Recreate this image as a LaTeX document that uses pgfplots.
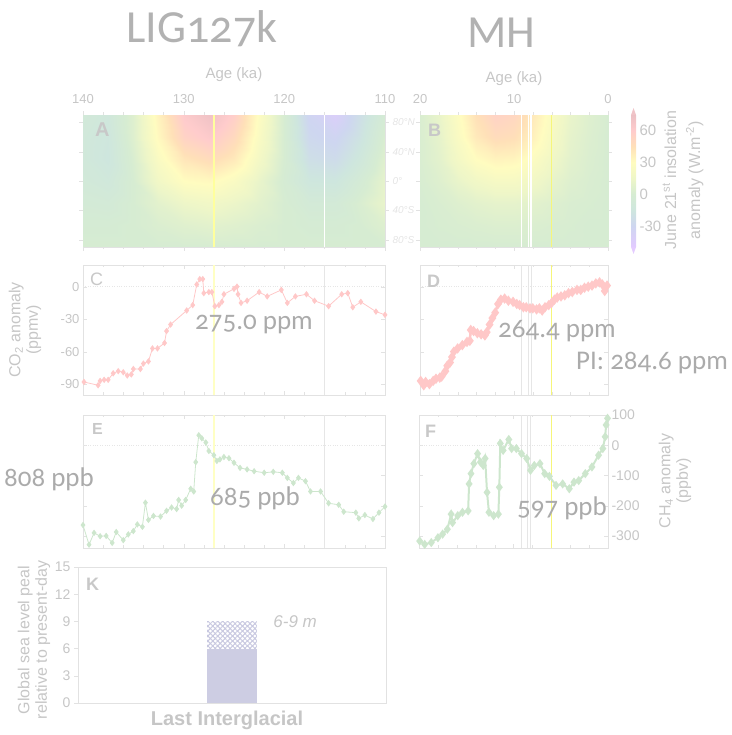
\documentclass[border=0pt]{standalone}
\usepackage{fontspec}
\setmainfont{Liberation Sans}
\newfontfamily\titlefont[Numbers=OldStyle]{Carlito}
\usepackage{pgfplots}
\pgfplotsset{compat=1.18}
\usetikzlibrary{patterns.meta}

\definecolor{frame}{HTML}{E2E2E2}
\definecolor{tickgray}{HTML}{C6C6C6}
\definecolor{titlegray}{HTML}{B2B2B2}
\definecolor{annotgray}{HTML}{ABABAB}
\definecolor{lettergray}{HTML}{C8C8C8}
\definecolor{latgray}{HTML}{E4E4E4}
\definecolor{co2}{HTML}{FFC8C8}
\definecolor{ch4}{HTML}{CDE6CD}
\definecolor{barfill}{HTML}{CDCDE3}
\definecolor{hatch}{HTML}{C8C8E0}
\definecolor{lig}{HTML}{FFFFC4}
\definecolor{mhy}{HTML}{F6F67A}
\definecolor{evgray}{HTML}{E6E6E6}
\definecolor{cbtop}{RGB}{240,196,200}
\definecolor{cbbot}{RGB}{228,204,255}

\tikzset{letter/.style={anchor=north west, inner sep=0pt, text=lettergray,
    font=\bfseries\fontsize{18}{18}\selectfont}}

\pgfplotsset{
  every axis/.append style={
    scale only axis,
    axis line style={draw=frame},
    tick style={draw=frame},
    every tick label/.append style={text=tickgray, font=\fontsize{13}{13}\selectfont},
    /pgf/number format/assume math mode=true,
    major tick length=4pt, minor tick length=2.5pt,
    tick pos=both,
  },
  insol/.style={
    colormap={insol}{rgb255(0cm)=(226,202,255); rgb255(20cm)=(206,214,240);
      rgb255(35cm)=(206,230,222); rgb255(50cm)=(214,236,210); rgb255(65cm)=(238,246,200);
      rgb255(80cm)=(255,252,192); rgb255(95cm)=(255,224,184); rgb255(110cm)=(255,204,204);
      rgb255(125cm)=(236,192,196)},
    point meta min=-50, point meta max=75,
    ymin=-90, ymax=90, tick align=outside, clip=false,
    ytick={-80,-40,0,40,80}, yticklabels={},
    xticklabel pos=upper, minor x tick num=4,
    xticklabel style={yshift=4pt},
  },
  ts/.style={tick align=inside, minor x tick num=4, xticklabels={}},
}

\pgfplotstableread{
x y z
140 -90 0
137.5 -90 0
135 -90 0
132.5 -90 0
130 -90 0
127.5 -90 0
125 -90 0
122.5 -90 0
120 -90 0
117.5 -90 0
115 -90 0
112.5 -90 0
110 -90 0
140 -60 -2
137.5 -60 -2
135 -60 0
132.5 -60 3
130 -60 6
127.5 -60 8
125 -60 6
122.5 -60 3
120 -60 0
117.5 -60 -2
115 -60 -2
112.5 -60 0
110 -60 5
140 -30 -5
137.5 -30 -6
135 -30 0
132.5 -30 8
130 -30 15
127.5 -30 18
125 -30 14
122.5 -30 8
120 -30 0
117.5 -30 -6
115 -30 -6
112.5 -30 2
110 -30 12
140 0 -8
137.5 0 -11
135 0 0
132.5 0 18
130 0 30
127.5 0 32
125 0 25
122.5 0 12
120 0 -2
117.5 0 -14
115 0 -15
112.5 0 -4
110 0 10
140 30 -10
137.5 30 -15
135 30 2
132.5 30 25
130 30 42
127.5 30 48
125 30 40
122.5 30 20
120 30 0
117.5 30 -22
115 30 -25
112.5 30 -12
110 30 6
140 60 -10
137.5 60 -14
135 60 5
132.5 60 32
130 60 55
127.5 60 62
125 60 50
122.5 60 25
120 60 0
117.5 60 -28
115 60 -32
112.5 60 -18
110 60 2
140 90 -8
137.5 90 -12
135 90 5
132.5 90 35
130 90 62
127.5 90 72
125 90 58
122.5 90 28
120 90 0
117.5 90 -32
115 90 -42
112.5 90 -22
110 90 -3
}\insolLIG

\pgfplotstableread{
x y z
20 -90 0
18 -90 0
16 -90 0
14 -90 0
12 -90 0
10 -90 0
8 -90 0
6 -90 0
4 -90 0
2 -90 0
0 -90 0
20 -60 0
18 -60 1
16 -60 2
14 -60 3
12 -60 4
10 -60 4
8 -60 3
6 -60 2
4 -60 1
2 -60 0
0 -60 0
20 -30 0
18 -30 2
16 -30 5
14 -30 8
12 -30 10
10 -30 10
8 -30 8
6 -30 5
4 -30 2
2 -30 1
0 -30 0
20 0 1
18 0 5
16 0 12
14 0 18
12 0 22
10 0 22
8 0 18
6 0 11
4 0 5
2 0 2
0 0 0
20 30 2
18 30 8
16 30 20
14 30 30
12 30 35
10 30 34
8 30 27
6 30 17
4 30 8
2 30 3
0 30 0
20 60 2
18 60 10
16 60 25
14 60 40
12 60 48
10 60 46
8 60 36
6 60 22
4 60 10
2 60 4
0 60 0
20 90 2
18 90 12
16 90 28
14 90 45
12 90 55
10 90 52
8 90 40
6 90 25
4 90 12
2 90 5
0 90 0
}\insolMH

\begin{document}
\begin{tikzpicture}[x=1pt,y=1pt]
\path (0,0) rectangle (731,735);

% titles
\node[anchor=base, text=titlegray, font=\titlefont\fontsize{46}{46}\selectfont] at (202,692) {LIG127k};
\node[anchor=base, text=titlegray, font=\titlefont\fontsize{46}{46}\selectfont] at (501,687) {MH};

% A: insolation LIG
\begin{axis}[insol, at={(83pt,488pt)}, anchor=south west, width=302pt, height=132pt,
  xmin=110, xmax=140, x dir=reverse, xtick={110,120,130,140},
  yticklabel pos=right,
  yticklabels={80°S,40°S,0°,40°N,80°N},
  yticklabel style={text=latgray, font=\itshape\fontsize{10}{10}\selectfont},
]
\addplot[surf, shader=interp, mesh/cols=13, point meta=explicit] table[x=x, y=y, meta=z] {\insolLIG};
\addplot[lig!80!yellow, line width=2pt] coordinates {(127,-90) (127,90)};
\addplot[white, line width=1.5pt] coordinates {(116,-90) (116,90)};
\node[letter, font=\bfseries\fontsize{20}{20}\selectfont] at ([xshift=12pt,yshift=-8pt]rel axis cs:0,1) {A};
\node[text=tickgray, font=\fontsize{15}{15}\selectfont] at ([yshift=40pt]rel axis cs:0.5,1) {Age (ka)};
\end{axis}

% B: insolation MH
\begin{axis}[insol, at={(420pt,488pt)}, anchor=south west, width=188pt, height=132pt,
  xmin=0, xmax=20, x dir=reverse, xtick={0,10,20},
  colorbar right,
  colorbar style={at={(parent axis.north east)}, anchor=north west, xshift=14.5pt,
    width=5pt, scale only axis, axis line style={draw=none}, major tick length=0pt,
    ytick={-30,0,30,60}, yticklabel pos=right,
    yticklabel style={text=tickgray, font=\fontsize{15}{15}\selectfont},
    extra description/.code={
      \fill[cbtop] (axis description cs:0,1) -- (axis description cs:1,1)
        -- ([yshift=7pt]axis description cs:0.5,1) -- cycle;
      \fill[cbbot] (axis description cs:0,0) -- (axis description cs:1,0)
        -- ([yshift=-7pt]axis description cs:0.5,0) -- cycle;
    }},
]
\addplot[surf, shader=interp, mesh/cols=11, point meta=explicit] table[x=x, y=y, meta=z] {\insolMH};
\addplot[white, line width=1.2pt] coordinates {(9.2,-90) (9.2,90)};
\addplot[white, line width=1.2pt] coordinates {(8.5,-90) (8.5,90)};
\addplot[white, line width=1.2pt] coordinates {(8.2,-90) (8.2,90)};
\addplot[mhy, line width=1.5pt] coordinates {(6,-90) (6,90)};
\node[letter] at ([xshift=8pt,yshift=-9pt]rel axis cs:0,1) {B};
\node[text=tickgray, font=\fontsize{15}{15}\selectfont] at ([yshift=36pt]rel axis cs:0.5,1) {Age (ka)};
\end{axis}

% C: CO2 LIG
\begin{axis}[ts, at={(83pt,340pt)}, anchor=south west, width=302pt, height=130pt,
  xmin=110, xmax=140, x dir=reverse, xtick={110,120,130,140},
  ymin=-100, ymax=20, ytick={-90,-60,-30,0},
]
\addplot[evgray, dotted] coordinates {(140,0) (110,0)};
\addplot[lig, line width=2.5pt] coordinates {(127,-100) (127,20)};
\addplot[evgray, line width=1pt] coordinates {(116,-100) (116,20)};
\addplot[co2, line width=0.8pt, mark=diamond*, mark size=2.6pt, mark options={fill=co2, draw=co2}] coordinates {
(139.9,-88) (138.5,-91) (138.3,-87) (137.9,-86) (137.5,-86) (137.0,-80) (136.5,-78)
(136.0,-79) (135.6,-82) (135.2,-81) (135.0,-76) (134.3,-76) (134.0,-71) (133.5,-69)
(133.1,-57) (132.6,-57) (131.9,-52) (131.7,-41) (131.3,-35) (129.7,-22) (129.1,-17)
(128.7,2) (128.4,7) (128.1,7) (128.0,-6) (127.5,-5) (127.2,-5) (126.9,-18) (126.5,-17)
(126.2,-14) (126.0,-7) (125.0,-2) (124.7,0) (124.6,-7) (124.3,-15) (123.7,-13)
(122.5,-5) (121.7,-9) (120.3,-3) (119.7,-15) (118.9,-9) (117.8,-7) (117.0,-13)
(115.6,-18) (114.3,-7) (113.7,-6) (113.2,-19) (112.4,-14) (110.9,-23) (110.0,-26)
};
\node[letter, font=\fontsize{18}{18}\selectfont] at ([xshift=7pt,yshift=-8pt]rel axis cs:0,1) {C};
\end{axis}

% D: CO2 MH
\begin{axis}[ts, at={(420pt,340pt)}, anchor=south west, width=188pt, height=130pt,
  xmin=0, xmax=20, x dir=reverse, xtick={0,10,20},
  ymin=-100, ymax=20, ytick={-90,-60,-30,0}, yticklabels={},
]
\addplot[evgray, dotted] coordinates {(20,0) (0,0)};
\addplot[evgray, line width=0.8pt] coordinates {(9.2,-100) (9.2,20)};
\addplot[evgray, line width=0.8pt] coordinates {(8.5,-100) (8.5,20)};
\addplot[evgray, line width=0.8pt] coordinates {(8.2,-100) (8.2,20)};
\addplot[mhy, line width=1pt] coordinates {(6,-100) (6,20)};
\addplot[co2, line width=2.5pt, mark=diamond*, mark size=3.2pt, mark options={fill=co2, draw=co2}] coordinates {
(19.93,-87) (19.6,-91) (19.4,-88) (19.0,-90) (18.6,-87) (18.3,-85) (17.9,-84) (17.7,-83)
(17.3,-78) (17.1,-73) (16.8,-70) (16.6,-65) (16.4,-60) (16.0,-57) (15.5,-54) (15.0,-51)
(14.7,-50) (14.6,-40) (14.3,-41) (13.9,-43) (13.5,-44) (13.1,-45) (12.9,-42) (12.6,-35)
(12.3,-29) (12.0,-24) (11.7,-16) (11.4,-12) (11.0,-11) (10.6,-13) (10.1,-14) (9.7,-16)
(9.4,-17) (9.0,-19) (8.7,-19) (8.3,-20) (8.0,-20) (7.6,-21) (7.3,-20) (7.0,-22)
(6.7,-19) (6.3,-17) (6.0,-15) (5.7,-12) (5.4,-10) (5.0,-9) (4.6,-8) (4.2,-6) (3.8,-5)
(3.3,-3) (2.9,-3) (2.5,-1) (2.1,0) (1.7,1) (1.3,3) (0.9,4) (0.6,2) (0.35,-4) (0.1,1)
};
\node[letter] at ([xshift=7pt,yshift=-10pt]rel axis cs:0,1) {D};
\end{axis}

% E: CH4 LIG
\begin{axis}[ts, at={(83pt,187pt)}, anchor=south west, width=302pt, height=133pt,
  xmin=110, xmax=140, x dir=reverse, xtick={110,120,130,140},
  ymin=-340, ymax=100, ytick={-300,-200,-100,0}, yticklabels={},
]
\addplot[evgray, dotted] coordinates {(140,0) (110,0)};
\addplot[lig, line width=2.5pt] coordinates {(127,-340) (127,100)};
\addplot[evgray, line width=1pt] coordinates {(116,-340) (116,100)};
\addplot[ch4, line width=0.8pt, mark=diamond*, mark size=2.6pt, mark options={fill=ch4, draw=ch4}] coordinates {
(140,-264) (139.4,-329) (138.9,-290) (138.3,-301) (137.7,-300) (137.1,-323) (136.7,-287)
(136.0,-314) (135.5,-295) (135.0,-284) (134.6,-262) (134.1,-270) (133.8,-190) (133.5,-247)
(133.0,-234) (132.3,-236) (131.7,-217) (131.2,-206) (130.7,-211) (130.5,-181) (130.2,-200)
(129.8,-181) (129.3,-144) (129.0,-153) (128.8,-56) (128.5,33) (128.2,23) (127.8,9)
(127.5,-19) (127.0,-33) (126.7,-52) (126.4,-47) (126.0,-39) (125.5,-43) (125.0,-58)
(124.4,-75) (123.7,-80) (123.0,-86) (122.0,-91) (121.1,-88) (120.2,-91) (119.7,-108)
(119.1,-125) (118.6,-108) (117.9,-119) (117.4,-153) (116.4,-153) (115.6,-192) (114.6,-197)
(114.1,-220) (112.9,-223) (112.6,-242) (112.0,-231) (111.2,-244) (110.6,-223) (110.0,-203)
};
\node[letter, font=\bfseries\fontsize{16}{16}\selectfont] at ([xshift=9pt,yshift=-8pt]rel axis cs:0,1) {E};
\end{axis}

% F: CH4 MH
\begin{axis}[ts, at={(419pt,187pt)}, anchor=south west, width=189pt, height=133pt,
  xmin=0, xmax=20, x dir=reverse, xtick={0,10,20},
  ymin=-340, ymax=100, ytick={-300,-200,-100,0,100}, yticklabel pos=right,
  yticklabel style={font=\fontsize{14}{14}\selectfont},
]
\addplot[evgray, dotted] coordinates {(20,0) (0,0)};
\addplot[evgray, line width=0.8pt] coordinates {(9.2,-340) (9.2,100)};
\addplot[evgray, line width=0.8pt] coordinates {(8.5,-340) (8.5,100)};
\addplot[evgray, line width=0.8pt] coordinates {(8.2,-340) (8.2,100)};
\addplot[mhy, line width=1pt] coordinates {(6,-340) (6,100)};
\addplot[ch4, line width=2pt, mark=diamond*, mark size=3pt, mark options={fill=ch4, draw=ch4}] coordinates {
(19.93,-317) (19.4,-328) (18.7,-322) (18.0,-306) (17.5,-294) (17.0,-278) (16.6,-228)
(16.45,-256) (15.9,-233) (15.4,-222) (14.8,-217) (14.7,-128) (14.5,-94) (14.2,-61)
(13.8,-28) (13.5,-56) (13.2,-67) (13.0,-44) (12.8,-156) (12.6,-222) (12.1,-233)
(11.6,-228) (11.5,-139) (11.4,6) (11.1,-17) (10.5,19) (10.2,-11) (9.7,-11) (9.15,-28)
(8.6,-44) (8.2,-83) (7.8,-67) (7.2,-61) (6.7,-94) (6.2,-103) (5.5,-133) (4.8,-128)
(4.1,-144) (3.6,-122) (3.1,-117) (2.4,-94) (1.7,-72) (1.0,-33) (0.55,-11) (0.3,28)
(0.2,67) (0.05,89)
};
\node[letter] at ([xshift=6pt,yshift=-10pt]rel axis cs:0,1) {F};
\end{axis}

% K: sea level
\begin{axis}[at={(78pt,32pt)}, anchor=south west, width=308pt, height=136pt,
  xmin=0, xmax=1, xtick=\empty, ymin=0, ymax=15, ytick={0,3,...,15},
  ytick pos=left, tick align=outside,
  yticklabel style={font=\fontsize{14}{14}\selectfont},
]
\addplot[draw=none, fill=barfill] coordinates {(0.419,0) (0.419,6) (0.581,6) (0.581,0)} --cycle;
\addplot[draw=none, pattern={Lines[angle=45, distance=3.5pt, line width=1pt]}, pattern color=hatch]
  coordinates {(0.419,6) (0.419,9) (0.581,9) (0.581,6)} --cycle;
\addplot[draw=none, pattern={Lines[angle=-45, distance=3.5pt, line width=1pt]}, pattern color=hatch]
  coordinates {(0.419,6) (0.419,9) (0.581,9) (0.581,6)} --cycle;
\node[letter] at ([xshift=8pt,yshift=-11pt]rel axis cs:0,1) {K};
\node[text=tickgray, font=\itshape\fontsize{17}{17}\selectfont] at (axis cs:0.705,9) {6-9 m};
\end{axis}

% axis titles
\node[rotate=90, align=center, text=tickgray, font=\fontsize{16}{17.5}\selectfont] at (25,405) {CO\textsubscript{2} anomaly\\(ppmv)};
\node[rotate=90, align=center, text=tickgray, font=\fontsize{16}{17.5}\selectfont] at (675,254) {CH\textsubscript{4} anomaly\\(ppbv)};
\node[rotate=90, align=center, text=tickgray, font=\fontsize{16}{17.5}\selectfont] at (34,95) {Global sea level peal\\relative to present-day};
\node[rotate=90, align=center, text=tickgray, font=\fontsize{16}{24}\selectfont] at (683,555) {June 21\textsuperscript{st} insolation\\anomaly (W.m\textsuperscript{-2})};
\node[text=tickgray, font=\bfseries\fontsize{20}{20}\selectfont] at (227,15) {Last Interglacial};

% concentration annotations
\node[anchor=base, text=annotgray, font=\titlefont\fontsize{27}{27}\selectfont] at (254,405) {275.0 ppm};
\node[anchor=base, text=annotgray, font=\titlefont\fontsize{27}{27}\selectfont] at (557,397) {264.4 ppm};
\node[anchor=base, text=annotgray, font=\titlefont\fontsize{27}{27}\selectfont] at (652,365) {PI: 284.6 ppm};
\node[anchor=base, text=annotgray, font=\titlefont\fontsize{27}{27}\selectfont] at (49,248) {808 ppb};
\node[anchor=base, text=annotgray, font=\titlefont\fontsize{27}{27}\selectfont] at (255,229) {685 ppb};
\node[anchor=base, text=annotgray, font=\titlefont\fontsize{27}{27}\selectfont] at (562,219) {597 ppb};
\end{tikzpicture}
\end{document}
